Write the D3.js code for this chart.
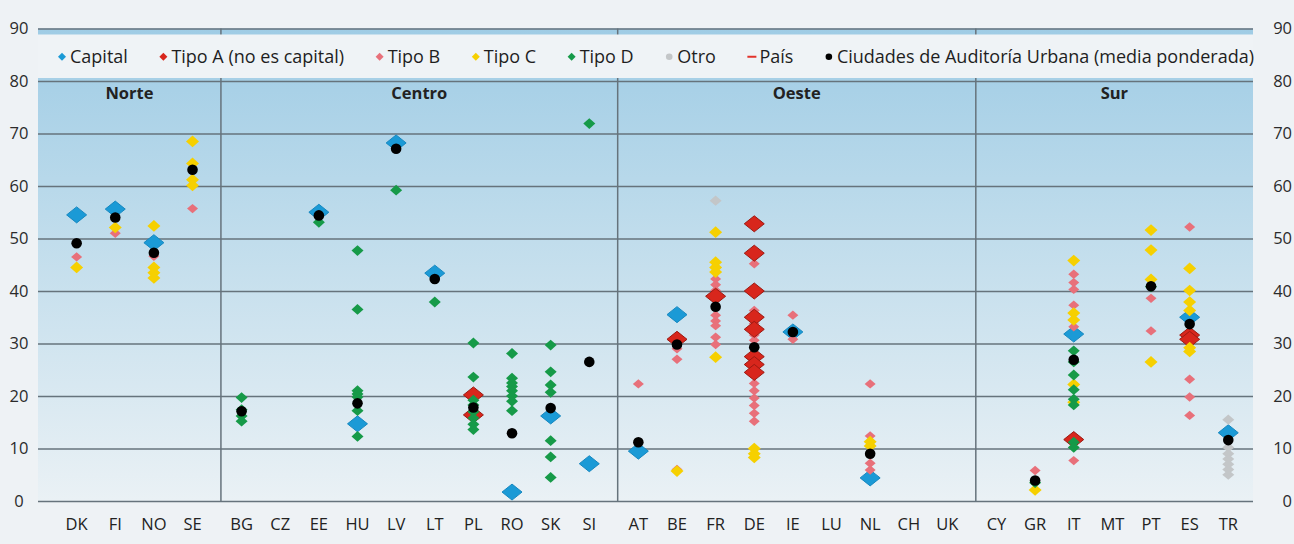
<!DOCTYPE html>
<html>
<head>
<meta charset="utf-8">
<script src="https://cdn.jsdelivr.net/npm/d3@7"></script>
<style>
body { margin: 0; background: #eef2f5; }
svg { display: block; font-family: "Open Sans", sans-serif; }
</style>
</head>
<body>
<svg id="chart" width="1294" height="544"></svg>
<script>

// regions and their countries, in display order
var regions = ["Norte", "Centro", "Oeste", "Sur"];
var regionCountries = [
	["DK", "FI", "NO", "SE"],
	["BG", "CZ", "EE", "HU", "LV", "LT", "PL", "RO", "SK", "SI"],
	["AT", "BE", "FR", "DE", "IE", "LU", "NL", "CH", "UK"],
	["CY", "GR", "IT", "MT", "PT", "ES", "TR"]
];
var yTicks = [0, 10, 20, 30, 40, 50, 60, 70, 80, 90];

// values: [country, %]
var capital = [["DK",54.5],["FI",55.6],["NO",49.2],["EE",55],["HU",14.7],["LV",68.2],["LT",43.4],
	["RO",1.7],["SK",16.2],["SI",7.1],["AT",9.5],["BE",35.5],["IE",32.2],["NL",4.4],["IT",31.8],
	["ES",35],["TR",13]];
var tipoA = [["PL",20.2],["PL",16.4],["BE",30.8],["FR",39],["DE",52.8],["DE",47.2],["DE",40],
	["DE",35],["DE",32.7],["DE",27.5],["DE",26],["DE",24.5],["IT",11.7],["ES",31.6],["ES",30.8]];
var tipoB = [["DK",46.5],["FI",51],["NO",46.6],["SE",55.7],["AT",22.3],["BE",29],["BE",27],["BE",6],
	["FR",42.3],["FR",41.2],["FR",40.1],["FR",35.4],["FR",34.3],["FR",33.4],["FR",31.2],["FR",29.8],
	["DE",45.2],["DE",36.3],["DE",33.8],["DE",31.6],["DE",30.6],["DE",22.4],["DE",21],["DE",19.6],
	["DE",18.2],["DE",16.7],["DE",15.2],["IE",35.4],["IE",30.8],["NL",22.3],["NL",12.4],["NL",7.2],
	["NL",5.9],["GR",5.8],["IT",43.2],["IT",41.6],["IT",40.3],["IT",37.3],["IT",33.2],["IT",7.7],
	["PT",38.6],["PT",32.4],["ES",52.2],["ES",23.2],["ES",19.8],["ES",16.3]];
var tipoC = [["DK",44.5],["FI",52.1],["NO",52.4],["NO",44.5],["NO",43.5],["NO",42.5],["SE",68.5],
	["SE",64.3],["SE",61.2],["SE",60.1],["BE",5.7],["FR",51.2],["FR",45.5],["FR",44.5],["FR",43.6],
	["FR",27.4],["DE",10],["DE",9],["DE",8.3],["NL",11.3],["NL",10.5],["GR",2.1],["IT",45.8],
	["IT",35.8],["IT",34.5],["IT",22.2],["IT",18.8],["PT",51.6],["PT",47.8],["PT",42.2],["PT",26.5],
	["ES",44.3],["ES",40.1],["ES",37.9],["ES",36.3],["ES",29.2],["ES",28.5]];
var tipoD = [["BG",19.7],["BG",17.4],["BG",16.2],["BG",15.2],["EE",53.1],["HU",47.7],["HU",36.5],
	["HU",21],["HU",20.4],["HU",19.8],["HU",17.2],["HU",12.3],["LV",59.2],["LT",37.9],
	["PL",30.1],["PL",23.6],["PL",19.2],["PL",18.3],["PL",17],["PL",15.8],["PL",14.6],["PL",13.6],
	["RO",28.1],["RO",23.4],["RO",22.5],["RO",21.8],["RO",21],["RO",20],["RO",19],["RO",17.2],
	["SK",29.7],["SK",24.6],["SK",22.1],["SK",20.7],["SK",11.5],["SK",8.4],["SK",4.5],["SI",71.9],
	["GR",3.5],["IT",28.6],["IT",26.5],["IT",24],["IT",21.2],["IT",19.4],["IT",18.3],["IT",11.2],
	["IT",10.2],["PT",40.8]];
var otro = [["FR",57.2],["TR",15.5],["TR",10.2],["TR",9],["TR",8],["TR",7],["TR",6],["TR",5]];
var ciudades = [["DK",49.1],["FI",54],["NO",47.3],["SE",63.1],["BG",17.1],["EE",54.4],["HU",18.6],
	["LV",67.1],["LT",42.3],["PL",17.8],["RO",12.9],["SK",17.7],["SI",26.5],["AT",11.2],["BE",29.8],
	["FR",37],["DE",29.3],["IE",32.2],["NL",9],["GR",3.9],["IT",26.9],["PT",40.9],["ES",33.7],["TR",11.6]];

var legendLabels = ["Capital", "Tipo A (no es capital)", "Tipo B", "Tipo C", "Tipo D", "Otro", "País",
	"Ciudades de Auditoría Urbana (media ponderada)"];

////////////////////////////////////////////////////////////////
//  layout
////////////////////////////////////////////////////////////////

var svg = d3.select("#chart"),
	left = 38, right = 1253, regionGap = 0.27;

// slot index per country, with a small gap between regions
var slot = {}, k = 0;
regionCountries.forEach(function (list, r) {
	list.forEach(function (c) { slot[c] = k + r * regionGap; k++; });
});
var countries = d3.merge(regionCountries);

var x = d3.scaleLinear().domain([-1, 30.45]).range([left, right]);
var y = d3.scaleLinear().domain([0, 90]).range([501, 28.5]);
var px = function (c) { return x(slot[c]); };

// diamond with given height/width ratio
function diamond(ratio) {
	return { draw: function (ctx, size) {
		var r = Math.sqrt(size) / 2, h = r * ratio;
		ctx.moveTo(0, -h); ctx.lineTo(r, 0); ctx.lineTo(0, h); ctx.lineTo(-r, 0); ctx.closePath();
	}};
}

var series = [
	{ data: capital, fill: "#1b9ad6", stroke: "#1788c0", size: 400, ratio: 0.8 },
	{ data: tipoB,   fill: "#e8707a", stroke: "none", size: 121, ratio: 0.85 },
	{ data: tipoA,   fill: "#d8261c", stroke: "#9c1a12", size: 400, ratio: 0.8 },
	{ data: tipoC,   fill: "#f6d000", stroke: "none", size: 169, ratio: 0.9 },
	{ data: tipoD,   fill: "#169a48", stroke: "none", size: 144, ratio: 0.9 },
	{ data: otro,    fill: "#c3c6c8", stroke: "none", size: 144, ratio: 0.85 }
];

// background gradient
var defs = svg.append("defs");
var grad = defs.append("linearGradient").attr("id", "bg").attr("x1", 0).attr("y1", 0).attr("x2", 0).attr("y2", 1);
grad.append("stop").attr("offset", "0%").attr("stop-color", "#9fcce5");
grad.append("stop").attr("offset", "45%").attr("stop-color", "#c1ddec");
grad.append("stop").attr("offset", "100%").attr("stop-color", "#eaf1f5");

svg.append("rect").attr("x", left).attr("y", y(90)).attr("width", right - left)
	.attr("height", y(0) - y(90)).attr("fill", "url(#bg)");

// region dividers
var firsts = regionCountries.slice(1).map(function (l) { return l[0]; }),
	lasts = regionCountries.slice(0, -1).map(function (l) { return l[l.length - 1]; });
var dividers = firsts.map(function (c, i) { return x((slot[c] + slot[lasts[i]]) / 2 + 0.1); });
svg.selectAll(".divider").data(dividers).enter().append("line")
	.attr("x1", function (d) { return d; }).attr("x2", function (d) { return d; })
	.attr("y1", y(90)).attr("y2", y(0))
	.attr("stroke", "#66737c").attr("stroke-width", 1.5);

// legend band between 90 and 80
svg.append("rect").attr("x", left).attr("y", y(90) + 6).attr("width", right - left)
	.attr("height", y(80) - y(90) - 9).attr("fill", "#eff3f6");

// gridlines
var grid = svg.append("g").attr("transform", "translate(" + left + ",0)")
	.call(d3.axisLeft(y).tickValues(yTicks).tickSize(-(right - left)).tickFormat(""));
grid.select(".domain").remove();
grid.selectAll("line").attr("stroke", "#66737c").attr("stroke-width", 1.6);

// tick labels on both sides
svg.selectAll(".ytl").data(yTicks).enter().append("text")
	.attr("x", 19).attr("y", function (d) { return y(d); }).attr("dy", "0.35em")
	.attr("text-anchor", "middle").attr("font-size", 16.5).attr("fill", "#2b2b2b")
	.text(function (d) { return d; });
svg.selectAll(".ytr").data(yTicks).enter().append("text")
	.attr("x", 1292).attr("y", function (d) { return y(d); }).attr("dy", "0.35em")
	.attr("text-anchor", "end").attr("font-size", 16.5).attr("fill", "#2b2b2b")
	.text(function (d) { return d; });

// region headers
var bounds = [left].concat(dividers, [right]);
svg.selectAll(".region").data(regions).enter().append("text")
	.attr("x", function (d, i) { return (bounds[i] + bounds[i + 1]) / 2; })
	.attr("y", y(80) + 12).attr("dy", "0.35em").attr("text-anchor", "middle")
	.attr("font-size", 16.5).attr("font-weight", "bold").attr("fill", "#222")
	.text(function (d) { return d; });

// country labels
svg.selectAll(".country").data(countries).enter().append("text")
	.attr("x", function (d) { return px(d); }).attr("y", 524).attr("dy", "0.35em")
	.attr("text-anchor", "middle").attr("font-size", 16.5).attr("fill", "#222")
	.text(function (d) { return d; });

// markers
series.forEach(function (s) {
	var sym = d3.symbol().type(diamond(s.ratio)).size(s.size);
	svg.append("g").selectAll("path").data(s.data).enter().append("path")
		.attr("d", sym)
		.attr("transform", function (d) { return "translate(" + px(d[0]) + "," + y(d[1]) + ")"; })
		.attr("fill", s.fill).attr("stroke", s.stroke).attr("stroke-width", 1);
});
svg.append("g").selectAll("circle").data(ciudades).enter().append("circle")
	.attr("cx", function (d) { return px(d[0]); }).attr("cy", function (d) { return y(d[1]); })
	.attr("r", 5.3).attr("fill", "#000");

// legend: texts first, then spread the items to fill the band like the original
var legendMarks = [
	{ fill: "#1b9ad6", shape: "d" }, { fill: "#d8261c", shape: "d" }, { fill: "#e8707a", shape: "d" },
	{ fill: "#f6d000", shape: "d" }, { fill: "#169a48", shape: "d" }, { fill: "#c3c6c8", shape: "c" },
	{ fill: "#e2332b", shape: "-" }, { fill: "#000", shape: "c" }
];
var lg = svg.append("g"), ly = (y(90) + y(80)) / 2 + 2, lStart = 62, lEnd = 1254, mGap = 8;
var texts = legendLabels.map(function (t) {
	return lg.append("text").attr("y", ly).attr("dy", "0.35em")
		.attr("font-size", 18).attr("fill", "#1e1e1e").text(t);
});
var widths = texts.map(function (t) { return t.node().getComputedTextLength(); });
var gap = (lEnd - lStart - d3.sum(widths) - mGap * widths.length) / (widths.length - 1);
var lx = lStart;
legendLabels.forEach(function (t, i) {
	var m = legendMarks[i];
	if (m.shape == "d") {
		lg.append("path").attr("d", d3.symbol().type(diamond(1)).size(64))
			.attr("transform", "translate(" + lx + "," + ly + ")").attr("fill", m.fill);
	} else if (m.shape == "c") {
		lg.append("circle").attr("cx", lx).attr("cy", ly).attr("r", 3.3).attr("fill", m.fill);
	} else {
		lg.append("line").attr("x1", lx - 4).attr("x2", lx + 5).attr("y1", ly).attr("y2", ly)
			.attr("stroke", m.fill).attr("stroke-width", 2);
	}
	texts[i].attr("x", lx + mGap);
	lx += mGap + widths[i] + gap;
});

</script>
</body>
</html>
